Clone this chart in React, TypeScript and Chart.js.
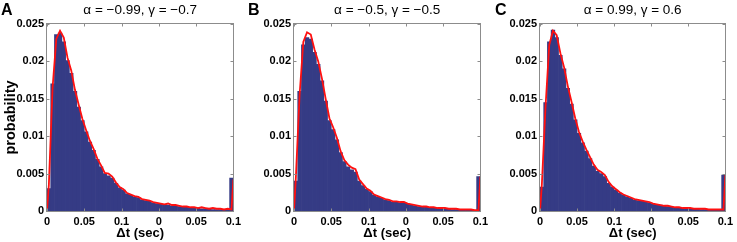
import React, { useEffect, useRef } from 'react';
import { Chart, registerables } from 'chart.js';

Chart.register(...registerables);

// ---- data ----
const X_TICK_LABELS = ['0', '0.05', '0.1', '0', '0.05', '0.1'];
const Y_TICK_LABELS = ['0', '0.005', '0.01', '0.015', '0.02', '0.025'];
const X_MIN = 0;
const X_MAX = 5;
const Y_MAX = 0.025;
const BIN_WIDTH = 0.1;

const PANEL_LETTERS = ['A', 'B', 'C'];
const PANEL_TITLES = ['α = −0.99, γ = −0.7', 'α = −0.5, γ = −0.5', 'α = 0.99, γ = 0.6'];

const BAR_A = [
  0.0030, 0.0170, 0.0236, 0.0238, 0.0226, 0.0201, 0.0184, 0.0160, 0.0139, 0.0121,
  0.0106, 0.0092, 0.0081, 0.0069, 0.0059, 0.0050, 0.0047, 0.0044, 0.0037, 0.0031,
  0.0028, 0.0023, 0.0021, 0.0019, 0.0018, 0.0015, 0.0014, 0.0013, 0.0011, 0.0010,
  0.0009, 0.0009, 0.0008, 0.0007, 0.0007, 0.0006, 0.0005, 0.0005, 0.0004, 0.0004,
  0.0004, 0.0003, 0.0003, 0.0003, 0.0002, 0.0002, 0.0002, 0.0002, 0.0001, 0.0044,
];
const LINE_A = [
  0.0035, 0.0165, 0.0230, 0.0241, 0.0232, 0.0205, 0.0188, 0.0162, 0.0142, 0.0123,
  0.0108, 0.0094, 0.0083, 0.0070, 0.0061, 0.0051, 0.0050, 0.0046, 0.0038, 0.0032,
  0.0029, 0.0024, 0.0022, 0.0020, 0.0019, 0.0016, 0.0015, 0.0014, 0.0012, 0.0011,
  0.0010, 0.0009, 0.0010, 0.0008, 0.0008, 0.0007, 0.0006, 0.0006, 0.0005, 0.0005,
  0.0004, 0.0005, 0.0004, 0.0003, 0.0004, 0.0003, 0.0003, 0.0002, 0.0003, 0.0002,
];
const SPIKE_A = 0.0042;

const BAR_B = [
  0.0040, 0.0160, 0.0222, 0.0232, 0.0230, 0.0212, 0.0196, 0.0174, 0.0147, 0.0121,
  0.0109, 0.0095, 0.0078, 0.0066, 0.0059, 0.0055, 0.0052, 0.0040, 0.0034, 0.0029,
  0.0026, 0.0021, 0.0019, 0.0017, 0.0015, 0.0014, 0.0012, 0.0012, 0.0011, 0.0011,
  0.0009, 0.0008, 0.0007, 0.0006, 0.0006, 0.0005, 0.0005, 0.0004, 0.0004, 0.0003,
  0.0003, 0.0003, 0.0002, 0.0002, 0.0002, 0.0002, 0.0001, 0.0001, 0.0001, 0.0046,
];
const LINE_B = [
  0.0045, 0.0155, 0.0226, 0.0239, 0.0236, 0.0216, 0.0200, 0.0177, 0.0150, 0.0124,
  0.0112, 0.0098, 0.0080, 0.0068, 0.0062, 0.0058, 0.0056, 0.0042, 0.0036, 0.0030,
  0.0027, 0.0022, 0.0020, 0.0018, 0.0016, 0.0015, 0.0013, 0.0013, 0.0012, 0.0012,
  0.0010, 0.0009, 0.0008, 0.0007, 0.0006, 0.0006, 0.0005, 0.0005, 0.0004, 0.0004,
  0.0004, 0.0003, 0.0003, 0.0003, 0.0002, 0.0002, 0.0002, 0.0002, 0.0001, 0.0001,
];
const SPIKE_B = 0.0046;

const BAR_C = [
  0.0032, 0.0145, 0.0226, 0.0242, 0.0232, 0.0208, 0.0190, 0.0164, 0.0143, 0.0122,
  0.0104, 0.0091, 0.0080, 0.0070, 0.0060, 0.0053, 0.0050, 0.0046, 0.0037, 0.0032,
  0.0028, 0.0024, 0.0021, 0.0019, 0.0017, 0.0015, 0.0014, 0.0013, 0.0012, 0.0011,
  0.0009, 0.0008, 0.0008, 0.0007, 0.0006, 0.0005, 0.0005, 0.0004, 0.0004, 0.0003,
  0.0003, 0.0003, 0.0003, 0.0002, 0.0002, 0.0002, 0.0002, 0.0001, 0.0001, 0.0048,
];
const LINE_C = [
  0.0035, 0.0140, 0.0222, 0.0241, 0.0235, 0.0211, 0.0192, 0.0167, 0.0146, 0.0124,
  0.0106, 0.0093, 0.0082, 0.0072, 0.0062, 0.0055, 0.0052, 0.0048, 0.0039, 0.0033,
  0.0029, 0.0025, 0.0022, 0.0020, 0.0018, 0.0016, 0.0015, 0.0014, 0.0013, 0.0012,
  0.0010, 0.0009, 0.0008, 0.0007, 0.0007, 0.0006, 0.0005, 0.0005, 0.0004, 0.0004,
  0.0004, 0.0003, 0.0003, 0.0003, 0.0003, 0.0002, 0.0002, 0.0002, 0.0002, 0.0002,
];
const SPIKE_C = 0.0048;

// ---- layout (positions / sizes) ----
const FONT = "'Liberation Sans', Arial, Helvetica, sans-serif";
const PANELS = [
  { left: 0, width: 245, yWidth: 47, rightPad: 11, letterLeft: 1, showY: true, bars: BAR_A, line: LINE_A, spike: SPIKE_A },
  { left: 245, width: 247, yWidth: 49, rightPad: 10, letterLeft: 248, showY: false, bars: BAR_B, line: LINE_B, spike: SPIKE_B },
  { left: 492, width: 245, yWidth: 48, rightPad: 10, letterLeft: 495, showY: false, bars: BAR_C, line: LINE_C, spike: SPIKE_C },
];

const framePlugin = {
  id: 'frameTicks',
  afterDatasetsDraw(chart: any) {
    const { ctx, chartArea, scales } = chart;
    const { left, right, top, bottom } = chartArea;
    const x = scales.x;
    const y = scales.y;
    ctx.save();
    ctx.strokeStyle = '#8c8c8c';
    ctx.lineWidth = 1;
    const l = Math.round(left) - 0.5;
    const r = Math.round(right) + 0.5;
    const t = Math.round(top) - 0.5;
    const b = Math.round(bottom) + 0.5;
    ctx.strokeRect(l, t, r - l, b - t);
    ctx.beginPath();
    x.ticks.forEach((tk: any) => {
      const px = Math.round(x.getPixelForValue(tk.value)) + 0.5;
      ctx.moveTo(px, t);
      ctx.lineTo(px, t + 3);
      ctx.moveTo(px, b);
      ctx.lineTo(px, b - 3);
    });
    y.ticks.forEach((tk: any) => {
      const py = Math.round(y.getPixelForValue(tk.value)) + 0.5;
      ctx.moveTo(l, py);
      ctx.lineTo(l + 3, py);
      ctx.moveTo(r, py);
      ctx.lineTo(r - 3, py);
    });
    ctx.stroke();
    ctx.restore();
  },
};

function Panel({ idx }: { idx: number }) {
  const ref = useRef<HTMLCanvasElement | null>(null);
  const p = PANELS[idx];

  useEffect(() => {
    if (!ref.current) return;
    const barPts = p.bars.map((v, i) => ({ x: X_MIN + (i + 0.5) * BIN_WIDTH, y: v }));
    const linePts = [
      { x: X_MIN, y: 0 },
      ...p.line.map((v, i) => ({ x: X_MIN + (i + 0.5) * BIN_WIDTH, y: v })),
      { x: X_MAX, y: p.spike },
    ];
    const chart = new Chart(ref.current, {
      type: 'bar',
      data: {
        datasets: [
          {
            type: 'line',
            data: linePts,
            borderColor: '#ff1010',
            borderWidth: 1.8,
            pointRadius: 0,
            tension: 0,
            fill: false,
            order: 0,
          } as any,
          {
            type: 'bar',
            data: barPts,
            backgroundColor: '#353b85',
            borderWidth: 0,
            barPercentage: 1,
            categoryPercentage: 1,
            order: 1,
          } as any,
        ],
      },
      options: {
        animation: false,
        responsive: false,
        maintainAspectRatio: false,
        layout: { padding: { left: 0, right: p.rightPad, top: 0, bottom: 0 } },
        plugins: {
          legend: { display: false },
          tooltip: { enabled: false },
          title: {
            display: true,
            text: PANEL_TITLES[idx],
            fullSize: false,
            color: '#000',
            font: { family: FONT, size: 13.5, weight: 'normal' },
            padding: { top: 2.3, bottom: 5.5 },
          },
        },
        scales: {
          x: {
            type: 'linear',
            min: X_MIN,
            max: X_MAX,
            offset: false,
            grid: { display: false, drawTicks: false },
            border: { display: false },
            ticks: {
              stepSize: 1,
              autoSkip: false,
              maxRotation: 0,
              padding: 4,
              color: '#000',
              font: { family: FONT, size: 11, weight: 'bold' },
              callback: (_v: any, i: number) => X_TICK_LABELS[i],
            },
            title: {
              display: true,
              text: 'Δt (sec)',
              color: '#000',
              font: { family: FONT, size: 13, weight: 'bold' },
              padding: { top: 0, bottom: 1 },
            },
            afterFit: (s: any) => {
              s.height = 31;
            },
          },
          y: {
            min: 0,
            max: Y_MAX,
            grid: { display: false, drawTicks: false },
            border: { display: false },
            ticks: {
              stepSize: 0.005,
              padding: 3,
              color: '#000',
              font: { family: FONT, size: 11, weight: 'bold' },
              callback: (_v: any, i: number) => Y_TICK_LABELS[i],
            },
            title: {
              display: p.showY,
              text: 'probability',
              color: '#000',
              font: { family: FONT, size: 14.5, weight: 'bold' },
              padding: { top: 2, bottom: 0 },
            },
            afterFit: (s: any) => {
              s.width = p.yWidth;
            },
          },
        },
      } as any,
      plugins: [framePlugin],
    });
    return () => chart.destroy();
  }, [idx]);

  return (
    <div style={{ position: 'absolute', left: p.left, top: 0, width: p.width, height: 242 }}>
      <canvas ref={ref} width={p.width} height={242} style={{ width: p.width, height: 242, display: 'block' }} />
    </div>
  );
}

export default function App() {
  return (
    <div
      style={{
        position: 'absolute',
        left: 0,
        top: 0,
        width: 737,
        height: 242,
        background: '#fff',
        overflow: 'hidden',
      }}
    >
      {PANELS.map((_, i) => (
        <Panel key={i} idx={i} />
      ))}
      {PANELS.map((p, i) => (
        <div
          key={'l' + i}
          style={{
            position: 'absolute',
            left: p.letterLeft,
            top: 0,
            lineHeight: '20px',
            fontFamily: FONT,
            fontWeight: 'bold',
            fontSize: 16,
            color: '#000',
          }}
        >
          {PANEL_LETTERS[i]}
        </div>
      ))}
    </div>
  );
}
